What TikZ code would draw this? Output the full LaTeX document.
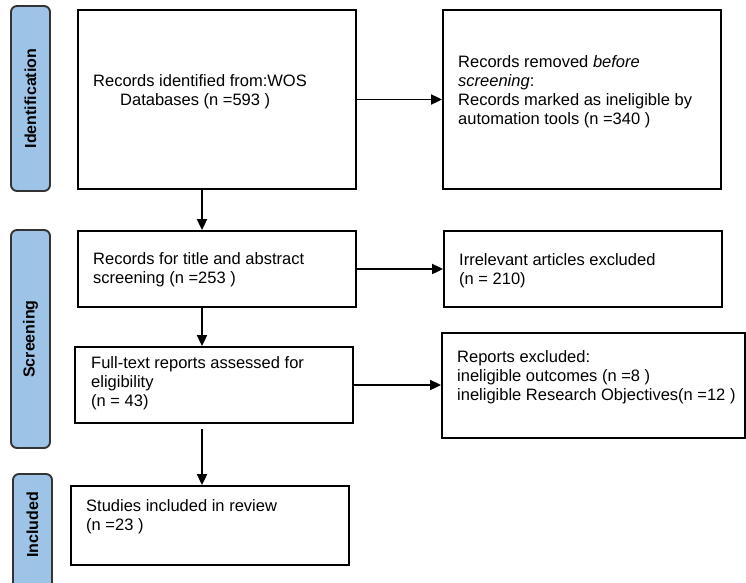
\documentclass[tikz,border=0pt]{standalone}
\usepackage{fontspec}
\setmainfont{Liberation Sans}
\usepackage{xcolor}
\usepackage{tikz}
\usetikzlibrary{arrows.meta, positioning}
\definecolor{phaseblue}{HTML}{9DC3E6}
\definecolor{phaseedge}{HTML}{333333}

\tikzset{
    stagebox/.style={draw=black, line width=1.8pt, fill=white, rectangle, inner sep=0pt},
    stagetext/.style={anchor=base west, inner sep=0pt, align=left, font=\fontsize{16.5}{18.8}\selectfont},
    phasebar/.style={draw=phaseedge, line width=1.9pt, fill=phaseblue, rounded corners=6pt, inner sep=0pt, minimum width=39pt},
    phaselbl/.style={rotate=90, inner sep=0pt, font=\fontsize{16}{18}\selectfont\bfseries},
    flowarrow/.style={line width=1.8pt, -{Triangle[length=11pt, width=10pt]}}
}

\begin{document}
\begin{tikzpicture}[x=1pt, y=-1pt]
    \useasboundingbox (0,0) rectangle (746,582);
    \clip (0,0) rectangle (746,582);

    % Phase bars on the left
    \node[phasebar, minimum height=185pt] (idbar) at (30.5,98.5) {};
    \node[phaselbl] (idlbl) at (idbar.center) {Identification};
    \node[phasebar, minimum height=218pt] (scbar) at (30.5,339) {};
    \node[phaselbl] (sclbl) at (scbar.center) {Screening};
    \node[phasebar, minimum height=126pt] (inbar) at (32.5,537) {};
    \node[phaselbl] (inlbl) at (32.5,525) {Included};

    % Identification (text anchored at the baseline of its last line)
    \node[stagebox, minimum width=278pt, minimum height=179pt] (found) at (217,99.5) {};
    \node[stagetext] (foundtxt) at (93,105) {Records identified from:WOS\\\hspace*{27pt}Databases (n =593 )};
    \node[stagebox, minimum width=278pt, minimum height=179pt] (removed) at (582,99.5) {};
    \node[stagetext] (removedtxt) at (458,124) {Records removed \textit{before}\\\textit{screening}:\\Records marked as ineligible by\\automation tools (n =340 )};

    % Screening
    \node[stagebox, minimum width=278pt, minimum height=76pt] (screened) at (217,269) {};
    \node[stagetext] (screenedtxt) at (93,283) {Records for title and abstract\\screening (n =253 )};
    \node[stagebox, minimum width=278pt, minimum height=76pt] (irrelevant) at (583,269) {};
    \node[stagetext] (irrelevanttxt) at (459,284) {Irrelevant articles excluded\\(n = 210)};
    \node[stagebox, minimum width=278pt, minimum height=76pt] (fulltext) at (214,385) {};
    \node[stagetext] (fulltexttxt) at (91,406) {Full-text reports assessed for\\eligibility\\(n = 43)};
    \node[stagebox, minimum width=303pt, minimum height=105pt] (excluded) at (593.5,385.5) {};
    \node[stagetext] (excludedtxt) at (457,400) {Reports excluded:\\ineligible outcomes (n =8 )\\ineligible Research Objectives(n =12 )};

    % Included
    \node[stagebox, minimum width=278pt, minimum height=79pt] (included) at (210,525.5) {};
    \node[stagetext] (includedtxt) at (86,530) {Studies included in review\\(n =23 )};

    % Arrows
    \coordinate (spine) at (202,0);
    \draw[flowarrow] (found.south -| spine) -- (screened.north -| spine);
    \draw[flowarrow] (screened.south -| spine) -- (fulltext.north -| spine);
    \draw[flowarrow] ([yshift=-5pt]fulltext.south -| spine) -- (included.north -| spine);
    \draw[flowarrow] (found.east) -- (found.east -| removed.west);
    \draw[flowarrow] (screened.east) -- (screened.east -| irrelevant.west);
    \draw[flowarrow] (fulltext.east) -- (fulltext.east -| excluded.west);
\end{tikzpicture}
\end{document}
